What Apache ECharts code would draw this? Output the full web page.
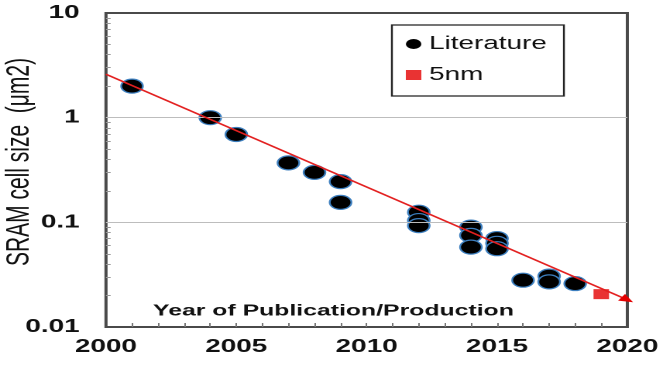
<!DOCTYPE html>
<html>
<head>
<meta charset="utf-8">
<script src="https://cdn.jsdelivr.net/npm/echarts@6/dist/echarts.min.js"></script>
<style>
html,body{margin:0;padding:0;background:#fff;overflow:hidden;}
#c{width:428px;height:368px;transform:scaleX(1.549);transform-origin:0 0;}
</style>
</head>
<body>
<div id="c"></div>
<script>
// ---- data ----
const litYears  = [2001, 2004, 2005, 2007, 2008, 2009, 2009, 2012, 2012, 2012, 2014, 2014, 2014, 2015, 2015, 2015, 2016, 2017, 2017, 2018];
const litValues = [2.0, 1.0, 0.69, 0.37, 0.30, 0.245, 0.155, 0.125, 0.104, 0.093, 0.090, 0.075, 0.058, 0.070, 0.063, 0.056, 0.028, 0.0306, 0.027, 0.026];
const nmYears   = [2019];
const nmValues  = [0.0206];
const fitYears  = [2000, 2020];
const fitValues = [2.6, 0.0182];
const gridValues = [1, 0.1];
const xTickYears = [2001,2002,2003,2004,2005,2006,2007,2008,2009,2010,2011,2012,2013,2014,2015,2016,2017,2018,2019];
const yMinorTicks = [0.02,0.03,0.04,0.05,0.06,0.07,0.08,0.09,0.2,0.3,0.4,0.5,0.6,0.7,0.8,0.9,2,3,4,5,6,7,8,9];
const yTickLabels = ['0.01', '0.1', '1', '10'];
const yTickValues = [0.01, 0.1, 1, 10];
const xTickLabels = ['2000', '2005', '2010', '2015', '2020'];
const legendNames = ['Literature', '5nm'];
const yTitle = 'SRAM cell size  (\u03bcm2)';
const xTitle = 'Year of Publication/Production';

const FONT = '"Liberation Sans", Arial, sans-serif';
const chart = echarts.init(document.getElementById('c'), null, {renderer: 'canvas', devicePixelRatio: 2});

const option = {
  animation: false,
  backgroundColor: '#fff',
  grid: {left: 68.4, right: 20.7, top: 13, bottom: 41, show: true, borderColor: '#4a4a4a', borderWidth: 2, backgroundColor: 'transparent'},
  xAxis: {
    type: 'value', min: 2000, max: 2020, interval: 5,
    axisLine: {show: false},
    splitLine: {show: false},
    axisTick: {show: true, inside: true, length: 4, customValues: xTickYears, lineStyle: {color: '#777', width: 1}},
    axisLabel: {
      margin: 11, fontSize: 18, fontWeight: 'bold', color: '#111', fontFamily: FONT,
      formatter: v => xTickLabels[Math.round((v - 2000) / 5)]
    }
  },
  yAxis: {
    type: 'log', logBase: 10, min: 0.01, max: 10,
    axisLine: {show: false},
    splitLine: {show: false},
    axisTick: {show: true, inside: true, length: 3, customValues: yMinorTicks, lineStyle: {color: '#999', width: 1}},
    axisLabel: {
      customValues: yTickValues,
      margin: 17, fontSize: 18, fontWeight: 'bold', color: '#111', fontFamily: FONT,
      formatter: v => yTickLabels[Math.round(Math.log10(v) + 2)]
    }
  },
  legend: {
    data: [
      {name: legendNames[0], icon: 'circle', itemStyle: {color: '#000', borderWidth: 0}},
      {name: legendNames[1], icon: 'rect', itemStyle: {color: '#e30000', borderWidth: 0}}
    ],
    orient: 'vertical', left: 253, top: 25,
    padding: [10, 11, 12, 9], itemGap: 13, itemWidth: 10, itemHeight: 10,
    borderColor: '#222', borderWidth: 1.2, backgroundColor: '#fff',
    selectedMode: false,
    textStyle: {fontSize: 18, color: '#111', fontFamily: FONT}
  },
  graphic: [
    {type: 'text', x: 12.5, y: 162, rotation: Math.PI / 2,
     style: {text: yTitle, font: '21px ' + FONT, fill: '#111', align: 'center', verticalAlign: 'middle'}},
    {type: 'text', x: 98.8, y: 311,
     style: {text: xTitle, font: 'bold 16px ' + FONT, fill: '#111', align: 'left', verticalAlign: 'middle'}}
  ],
  series: [
    {
      name: 'gridlines', type: 'line', data: [], z: 1, silent: true,
      markLine: {silent: true, symbol: 'none', label: {show: false},
        lineStyle: {color: '#bdbdbd', width: 1, type: 'solid'},
        data: gridValues.map(v => ({yAxis: v}))}
    },
    {
      name: legendNames[0], type: 'scatter', z: 3,
      symbol: 'circle', symbolSize: 14,
      itemStyle: {color: '#000', borderColor: '#3d7fbf', borderWidth: 1.2, opacity: 1},
      data: litYears.map((y, i) => [y, litValues[i]])
    },
    {
      name: legendNames[1], type: 'scatter', z: 4,
      symbol: 'rect', symbolSize: [10, 10],
      itemStyle: {color: '#e30000'},
      data: nmYears.map((y, i) => [y, nmValues[i]])
    },
    {
      name: 'fit', type: 'line', z: 5, silent: true,
      lineStyle: {color: '#e32020', width: 1.5},
      itemStyle: {color: '#e30000'},
      data: fitYears.map((y, i) => i === fitYears.length - 1
        ? {value: [y, fitValues[i]], symbol: 'triangle', symbolSize: [8, 9], symbolRotate: -124}
        : {value: [y, fitValues[i]], symbol: 'none'})
    }
  ]
};
chart.setOption(option);
</script>
</body>
</html>
